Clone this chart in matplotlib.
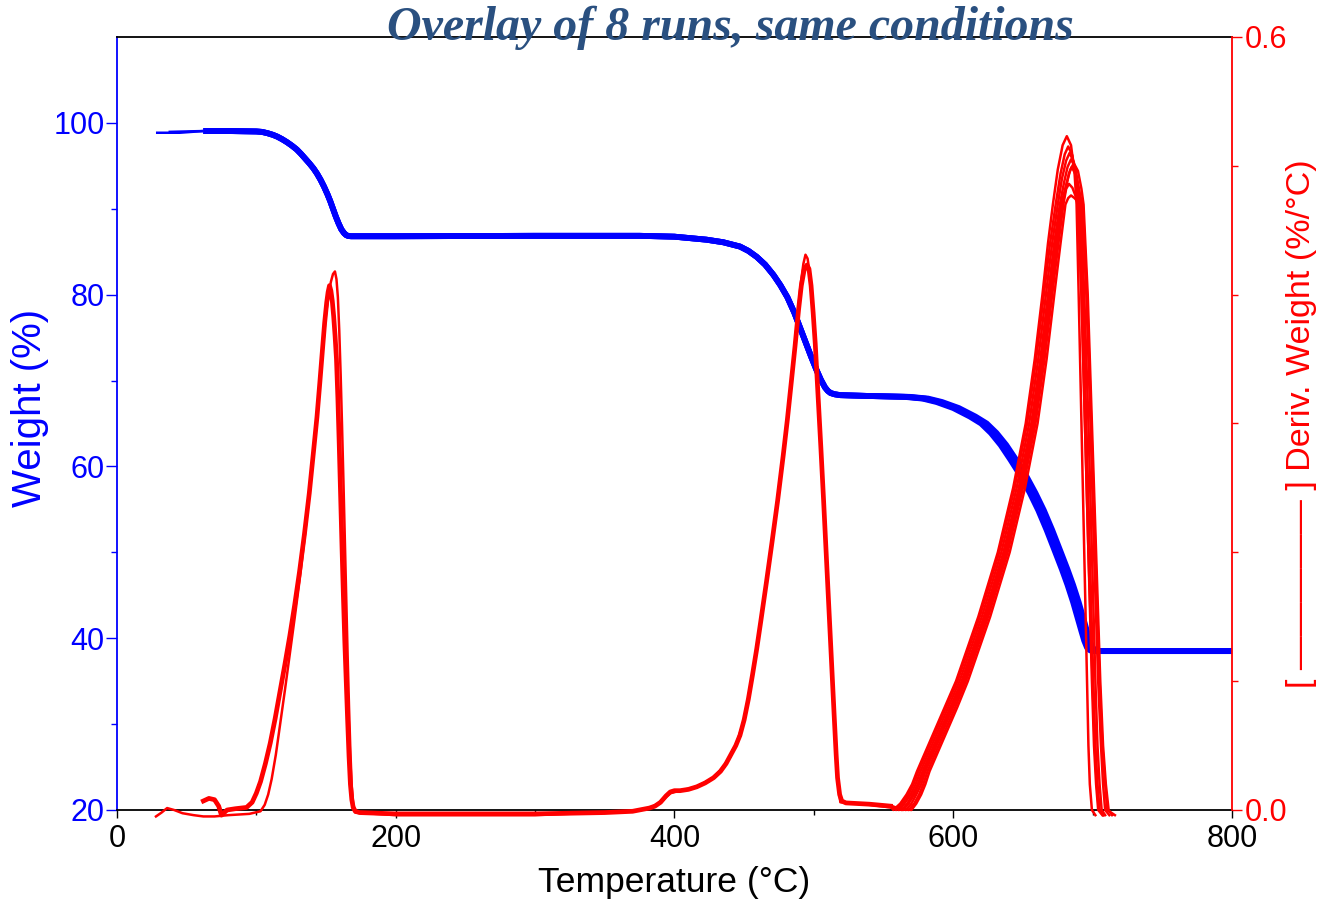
import numpy as np
import matplotlib.pyplot as plt
from matplotlib.ticker import MultipleLocator, FixedLocator

plt.rcParams['font.family'] = ['Liberation Sans', 'DejaVu Sans']

# weight (%), part that is common to all runs
w_temp = [62, 80, 100, 104, 108, 112, 115, 118.5, 122, 125.5, 129, 132, 135, 138, 141, 143.5, 146, 148.5,
          151, 153, 155, 157, 159, 161, 163, 164.5, 166, 168,
          200, 300, 375, 400, 423, 435, 447, 453, 459, 465, 471, 476, 481, 486, 490, 494,
          498, 502, 505, 508, 510, 512, 515, 519, 540]
w_val = [99.05, 99.05, 99.0, 98.95, 98.8, 98.6, 98.4, 98.1, 97.75, 97.35, 96.9, 96.4, 95.85, 95.3, 94.7, 94.1,
         93.4, 92.6,
         91.7, 90.9, 90.0, 89.1, 88.3, 87.6, 87.15, 86.93, 86.83, 86.8,
         86.8, 86.85, 86.85, 86.75, 86.4, 86.1, 85.6, 85.1, 84.4, 83.5, 82.3, 81.1, 79.7, 77.9, 76.2, 74.5,
         72.8, 71.2, 70.1, 69.2, 68.8, 68.55, 68.4, 68.3, 68.2]

# early start of two of the weight runs (thin part before 62 °C)
w_start_t = [[37], [], [28, 45]]
w_start = [[98.95], [], [98.85, 98.85]]

# last step: weight levels and the temperature where each run reaches them
w3_val = [68.1, 67.9, 67.5, 66.8, 65.8, 65.0, 63.9, 62.5, 60.8, 59.0, 56.9, 54.9, 52.6, 50.1, 48.0, 46.2,
          44.2, 42.5, 40.8, 39.7, 38.9, 38.6, 38.5, 38.5]
w3_t = [[565, 578, 588, 600, 612, 620, 627, 634, 641, 648, 655, 661, 667, 673, 678, 682, 686, 689, 692, 694, 696, 698, 700, 800],
        [567, 580, 590, 602, 614, 622, 629, 636, 643, 650, 657, 663, 669, 675, 680, 684, 688, 691, 694, 696, 698, 700, 702, 800],
        [569, 582, 592, 604, 616, 624, 631, 638, 645, 652, 659, 665, 671, 677, 682, 686, 690, 693, 696, 698, 700, 702, 704, 800]]

# derivative weight (%/°C), first two steps: most runs (A) and the late run (B)
dA_t = [62, 66, 70, 73, 75, 79, 85, 93, 97, 100, 103, 106.5, 110, 113.5, 117, 120.5, 124, 127.5, 131, 134.5,
        138, 141, 143.5, 145.5, 147.5, 149, 150.5, 151.5, 152.5, 153.5, 154.5, 155.5, 156.5, 157.5, 158.5, 159.5,
        160.5, 161.5, 162.5, 163.5, 164.5, 165.5, 166.5, 167.5, 168.5, 169.5, 171, 174, 200, 250, 300, 350,
        370, 382, 386, 390, 394, 397, 400, 404, 410, 416, 422, 428, 433, 437, 441, 444, 447, 450, 453, 456,
        459, 462, 466, 470, 474, 478, 481, 484, 486.5, 489, 491, 493, 495, 496.5, 498, 499.5, 501, 503,
        505, 507, 509, 511, 513, 514.5, 516, 517, 518.5, 520, 523, 540, 555]
dA = [0.007, 0.009, 0.008, 0.003, -0.004, 0.0, 0.001, 0.002, 0.006, 0.013, 0.022, 0.036, 0.052, 0.071, 0.092,
      0.113, 0.135, 0.159, 0.185, 0.214,
      0.246, 0.278, 0.305, 0.331, 0.358, 0.378, 0.394, 0.402, 0.407, 0.403, 0.395, 0.383, 0.368, 0.350, 0.320,
      0.283,
      0.243, 0.203, 0.165, 0.130, 0.100, 0.070, 0.042, 0.020, 0.008, 0.002, -0.001, -0.002, -0.003, -0.003,
      -0.003, -0.002,
      -0.001, 0.0015, 0.003, 0.006, 0.011, 0.014, 0.015, 0.015, 0.016, 0.018, 0.021, 0.025, 0.030, 0.036, 0.044,
      0.050, 0.058, 0.070, 0.086, 0.105,
      0.125, 0.147, 0.177, 0.208, 0.240, 0.275, 0.303, 0.334, 0.360, 0.388, 0.407, 0.419, 0.423, 0.420, 0.407,
      0.386, 0.362, 0.322,
      0.282, 0.240, 0.196, 0.152, 0.108, 0.075, 0.043, 0.025, 0.012, 0.007, 0.0055, 0.0045, 0.003]
dB_t = [28, 32, 36, 41, 47, 55, 62, 70, 80, 95, 103, 106, 108.5, 111, 114, 117, 120.5, 124, 127.5, 131,
        134.5, 138, 141, 143.5, 145.5, 148, 150, 152, 153.5, 155, 156.4, 157.5, 158.5, 159.5, 160.5, 161.5,
        162.5, 163.5, 164.5, 165.5, 166.5, 167.5, 168.5, 169.5, 171, 200, 300, 370, 382, 390, 397, 404, 416,
        428, 437, 444, 450, 456, 462, 470, 478, 484, 488, 490.5, 492.5, 494, 495.5, 497, 498.5, 501, 503, 507,
        511, 514.5, 517, 519, 540, 555]
dB = [-0.005, -0.002, 0.0015, 0.0, -0.0025, -0.004, -0.005, -0.005, -0.004, -0.003, -0.001, 0.004, 0.012, 0.024,
      0.043, 0.066, 0.093, 0.121, 0.149, 0.178,
      0.210, 0.245, 0.278, 0.305, 0.331, 0.362, 0.385, 0.401, 0.410, 0.416, 0.418, 0.412, 0.398, 0.372, 0.338,
      0.298,
      0.255, 0.210, 0.165, 0.120, 0.080, 0.045, 0.018, 0.005, -0.002, -0.004, -0.004, -0.001, 0.0015, 0.006,
      0.013, 0.015, 0.018,
      0.025, 0.036, 0.050, 0.070, 0.105, 0.147, 0.208, 0.275, 0.334, 0.380, 0.408, 0.424, 0.431, 0.428, 0.417,
      0.398, 0.360, 0.322, 0.240,
      0.152, 0.075, 0.025, 0.006, 0.004, 0.002]

# third peak, each of the 8 runs
rise_lv = [0.0, 0.005, 0.012, 0.02, 0.03, 0.045, 0.06, 0.08, 0.1, 0.125, 0.15, 0.175, 0.2, 0.25, 0.3, 0.35,
           0.4, 0.44, 0.47]
fall_lv = [0.47, 0.4, 0.3, 0.2, 0.1, 0.05, 0.02, 0.0, -0.004]
rise_t = [[557, 562, 566.5, 570.5, 574, 580, 586, 594, 602, 610, 618, 625, 632, 643, 652, 658.5, 664, 668, 671.5],
          [559, 563.5, 568, 571.5, 575, 581, 587, 595, 603, 611, 619, 626, 633, 644, 653, 659.5, 665, 669.5, 673.5],
          [561, 565, 569.5, 573, 576.5, 582.5, 588.5, 596.5, 604.5, 612.5, 620.5, 627.5, 634.5, 645.5, 654.5, 661,
           666.5, 671, 675],
          [563, 567, 571, 574.5, 578, 584, 590, 598, 606, 614, 622, 629, 636, 647, 656, 662.5, 668, 672.5, 676.5],
          [564, 568, 572, 575.5, 579, 585, 591, 599, 607, 615, 623, 630, 637, 648, 657, 663.5, 669, 673.5, 677.5],
          [566, 570, 573.5, 577, 580, 586, 592, 600, 608, 616, 624, 631, 638, 649, 658, 664.5, 670, 674.5, 678.5],
          [568, 572, 575.5, 578.5, 581.5, 587.5, 593.5, 601.5, 609, 617, 625, 632, 639, 650, 659, 665.5, 671,
           675.5, 679],
          [570, 573.5, 577, 580, 583, 589, 595, 603, 610.5, 618.5, 626.5, 633.5, 640.5, 651.5, 660.5, 667, 672.5,
           677, 680.5]]
top_t = [[675, 678.5, 681.5, 684.5, 687],
         [677, 680, 682.5, 685.5, 688],
         [678, 681, 683.5, 686.5, 689],
         [679.5, 682, 684.5, 687.5, 690],
         [681, 684, 686.5, 689.5, 692],
         [681, 683, 685, 688, 690.5],
         [681, 683, 685.5, 688],
         [682.5, 684.5, 687, 689.5]]
top_d = [[0.497, 0.516, 0.523, 0.516, 0.495],
         [0.494, 0.509, 0.515, 0.508, 0.490],
         [0.490, 0.504, 0.510, 0.503, 0.486],
         [0.487, 0.499, 0.505, 0.499, 0.483],
         [0.485, 0.497, 0.502, 0.496, 0.482],
         [0.484, 0.494, 0.499, 0.493, 0.480],
         [0.482, 0.486, 0.483, 0.476],
         [0.475, 0.477, 0.475, 0.472]]
fall_t = [[688.5, 690, 692, 694, 696, 697, 698, 699.5, 702],
          [689.5, 692, 694.5, 697, 699.5, 701, 702.5, 704, 707],
          [690.5, 693, 695.5, 698, 700.5, 702, 703.5, 705, 708],
          [691.5, 694, 697, 699.5, 702, 703.5, 705, 706.5, 709],
          [693.5, 696.5, 699.5, 702.5, 705.5, 707.5, 709.5, 711.5, 714],
          [692.5, 695.5, 698.5, 701, 704, 706, 707.5, 709, 712],
          [689.5, 692, 694.5, 697, 700, 701.5, 703, 704.5, 707.5],
          [693, 696, 699, 702, 705, 707, 709, 710.5, 716]]
run_group = ['A', 'A', 'A', 'A', 'A', 'A', 'A', 'B']

BLUE = '#0000ff'
RED = '#ff0000'

fig = plt.figure(figsize=(13.26, 9.02), dpi=100)
ax = fig.add_axes([0.0882, 0.102, 0.8409, 0.857])
ax2 = ax.twinx()

for st, sv, t3 in zip(w_start_t, w_start, w3_t):
    if st:
        ax.plot(st + w_temp[:1], sv + w_val[:1], color=BLUE, lw=1.8, solid_capstyle='butt')
    ax.plot(w_temp + t3, w_val + w3_val, color=BLUE, lw=4.2, solid_capstyle='butt', solid_joinstyle='round')

# shared part of the A runs drawn a bit thicker (7 runs lie on top of each other)
ax2.plot(dA_t, dA, color=RED, lw=3.4, clip_on=False, solid_joinstyle='round')
for i in range(8):
    if run_group[i] == 'A':
        lo_t, lo_d = dA_t, dA
    else:
        lo_t, lo_d = dB_t, dB
    x = lo_t + rise_t[i] + top_t[i] + fall_t[i]
    y = lo_d + rise_lv + top_d[i] + fall_lv
    ax2.plot(x, y, color=RED, lw=1.8, clip_on=False, solid_joinstyle='round')

ax.set_xlim(0, 800)
ax.set_ylim(20, 110)
ax2.set_ylim(0, 0.6)

ax.xaxis.set_major_locator(MultipleLocator(200))
ax.xaxis.set_minor_locator(MultipleLocator(100))
ax.yaxis.set_major_locator(FixedLocator([20, 40, 60, 80, 100]))
ax.yaxis.set_minor_locator(FixedLocator([30, 50, 70, 90]))
ax2.yaxis.set_major_locator(FixedLocator([0.0, 0.6]))
ax2.yaxis.set_minor_locator(FixedLocator([0.1, 0.2, 0.3, 0.4, 0.5]))
ax2.yaxis.set_major_formatter(plt.FormatStrFormatter('%.1f'))

ax.tick_params(axis='x', which='major', direction='out', length=6, width=1, labelsize=22, pad=4, colors='black')
ax.tick_params(axis='x', which='minor', direction='out', length=3.5, width=1)
ax.tick_params(axis='y', which='major', direction='out', length=8, width=1, labelsize=22, pad=1,
               colors=BLUE)
ax.tick_params(axis='y', which='minor', direction='out', length=4.5, width=1, colors=BLUE)
ax2.tick_params(axis='y', which='major', direction='out', length=7, width=1, labelsize=22, pad=2,
                colors=RED)
ax2.tick_params(axis='y', which='minor', direction='out', length=4.5, width=1, colors=RED)

for a in (ax, ax2):
    for s in a.spines.values():
        s.set_linewidth(1.3)
ax.spines['left'].set_color(BLUE)
ax.spines['right'].set_visible(False)
ax2.spines['left'].set_visible(False)
ax2.spines['top'].set_visible(False)
ax2.spines['bottom'].set_visible(False)
ax2.spines['right'].set_color(RED)

ax.set_xlabel('Temperature (°C)', fontsize=25.5, labelpad=9)
ax.set_ylabel('Weight (%)', fontsize=29, color=BLUE)
ax.yaxis.set_label_coords(-0.061, 0.52)
ax2.set_ylabel('[ ————— ] Deriv. Weight (%/°C)', fontsize=24.5, color=RED)
ax2.yaxis.set_label_coords(1.048, 0.5)

fig.text(0.5505, 0.969, 'Overlay of 8 runs, same conditions', ha='center', va='center',
         family='Liberation Serif', fontweight='bold', fontstyle='italic', fontsize=34.5,
         color='#2a5080', zorder=5)

fig.savefig('out.png', dpi=100)
